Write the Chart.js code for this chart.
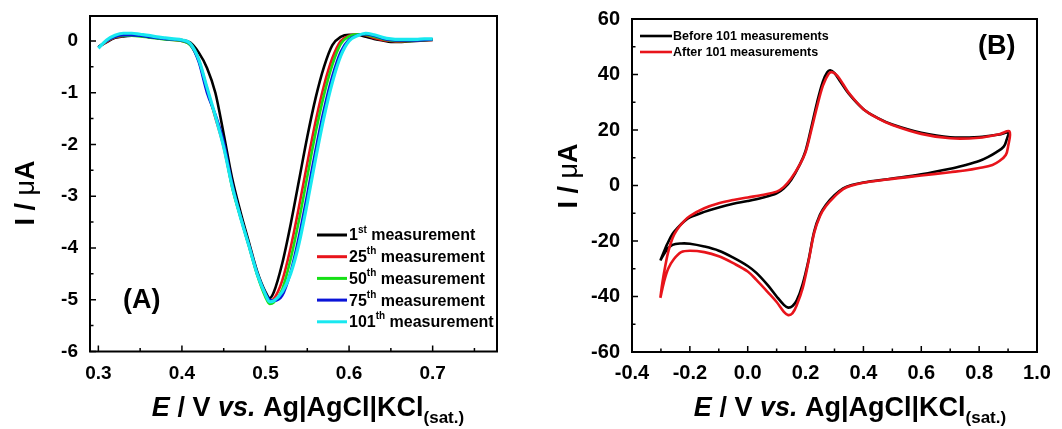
<!DOCTYPE html>
<html>
<head>
<meta charset="utf-8">
<script src="https://cdn.jsdelivr.net/npm/chart.js@4.4.1/dist/chart.umd.min.js"></script>
<style>
  html, body { margin: 0; padding: 0; background: #fff; }
  #wrap { position: relative; width: 1062px; height: 429px; }
  canvas { position: absolute; top: 0; }
  #ca { left: 0; }
  #cb { left: 531px; }
</style>
</head>
<body>
<div id="wrap">
  <canvas id="ca" width="531" height="429"></canvas>
  <canvas id="cb" width="531" height="429"></canvas>
</div>
<script>
// ---- panel A: DPV, 5 measurements on a shared potential grid ----
const eA = [0.30,0.31,0.32,0.33,0.34,0.35,0.36,0.37,0.38,0.39,0.40,0.41,0.42,0.43,0.44,0.45,0.46,0.47,0.48,0.49,0.50,0.505,
            0.51,0.52,0.53,0.54,0.55,0.56,0.57,0.58,0.59,0.60,0.61,0.62,0.63,0.64,0.65,0.66,0.67,0.68,0.69,0.70];
const m1   = [-0.12,-0.02,0.06,0.09,0.10,0.10,0.08,0.07,0.05,0.03,0.02,-0.03,-0.22,-0.52,-1.0,-1.8,-2.65,-3.3,-3.88,-4.45,-4.85,-4.97,
              -4.85,-4.3,-3.55,-2.7,-1.85,-1.1,-0.5,-0.08,0.08,0.12,0.12,0.08,0.04,0.01,-0.02,-0.02,-0.01,0.0,0.01,0.02];
const m25  = [-0.12,-0.01,0.07,0.10,0.11,0.10,0.08,0.06,0.04,0.02,0.0,-0.07,-0.36,-0.92,-1.48,-2.05,-2.8,-3.4,-3.95,-4.5,-4.92,-5.02,
              -4.98,-4.63,-4.0,-3.21,-2.36,-1.55,-0.86,-0.33,0.0,0.1,0.13,0.11,0.06,0.02,0.0,-0.01,0.0,0.01,0.02,0.02];
const m50  = [-0.12,0.0,0.08,0.10,0.10,0.09,0.07,0.05,0.03,0.02,0.0,-0.08,-0.38,-0.95,-1.45,-2.0,-2.82,-3.4,-3.95,-4.52,-4.95,-5.08,
              -5.05,-4.8,-4.22,-3.47,-2.62,-1.77,-1.04,-0.46,-0.06,0.09,0.13,0.12,0.08,0.04,0.01,0.0,0.0,0.01,0.02,0.03];
const m75  = [-0.12,0.0,0.08,0.11,0.11,0.10,0.08,0.06,0.04,0.03,0.01,-0.06,-0.4,-1.0,-1.42,-1.95,-2.75,-3.38,-3.93,-4.48,-4.88,-5.0,
              -5.02,-4.92,-4.47,-3.78,-2.96,-2.1,-1.32,-0.68,-0.21,0.03,0.11,0.13,0.10,0.05,0.02,0.01,0.01,0.01,0.02,0.03];
const m101 = [-0.14,0.02,0.11,0.15,0.15,0.13,0.11,0.08,0.06,0.04,0.02,-0.05,-0.35,-0.9,-1.45,-2.05,-2.8,-3.4,-3.95,-4.5,-4.9,-5.04,
              -5.02,-4.85,-4.5,-3.92,-3.13,-2.27,-1.47,-0.8,-0.29,0.0,0.1,0.15,0.12,0.07,0.04,0.03,0.03,0.03,0.04,0.04];
const labelsA = ['1st measurement','25th measurement','50th measurement','75th measurement','101th measurement'];
const colorsA = ['#000000','#e8141b','#16e016','#0a14d8','#18e8f0'];
const widthsA = [2.6, 2.6, 2.6, 2.6, 3.2];
const xTicksA = [0.3,0.4,0.5,0.6,0.7];
const xMinorA = [0.35,0.45,0.55,0.65,0.75];
const yTicksA = [-6,-5,-4,-3,-2,-1,0];
const yMinorA = [-5.5,-4.5,-3.5,-2.5,-1.5,-0.5];

// ---- panel B: CV before / after, forward then reverse scan ----
const eBefore = [-0.302,-0.29,-0.28,-0.26,-0.24,-0.22,-0.2,-0.15,-0.1,-0.05,0.0,0.05,0.1,0.125,0.15,0.18,0.2,0.22,0.24,0.26,0.275,0.285,0.3,0.32,0.35,0.4,0.45,0.5,0.6,0.7,0.8,0.87,0.9,
                 0.895,0.885,0.86,0.83,0.8,0.75,0.7,0.6,0.5,0.4,0.36,0.33,0.3,0.27,0.25,0.23,0.21,0.19,0.17,0.155,0.14,0.125,0.1,0.07,0.03,0.0,-0.05,-0.1,-0.15,-0.2,-0.23,-0.26,-0.28,-0.302];
const iBefore = [-27,-24,-21.5,-17.5,-15,-13,-11.5,-9.5,-7.9,-6.6,-5.6,-4.4,-2.8,-1.0,2.0,7.5,12.5,21,30,37.5,40.8,41.5,40.5,37.5,33,27.5,24.3,22,19,17.4,17.5,18.4,19,
                 16.5,14,12,10.2,8.8,7.3,6.0,4.0,2.5,1.1,0.2,-1.0,-3.5,-7,-10.5,-16.5,-27,-35.5,-41.3,-43.4,-44,-43,-40,-36,-31.5,-29,-26,-23.5,-22,-21,-20.9,-21.4,-23.2,-27];
const eAfter  = [-0.302,-0.295,-0.285,-0.275,-0.26,-0.245,-0.22,-0.2,-0.15,-0.1,-0.05,0.0,0.05,0.1,0.125,0.15,0.18,0.2,0.22,0.24,0.26,0.28,0.293,0.31,0.33,0.35,0.4,0.45,0.5,0.6,0.7,0.8,0.87,0.905,
                 0.9,0.892,0.87,0.846,0.8,0.75,0.7,0.6,0.5,0.4,0.36,0.33,0.3,0.27,0.25,0.23,0.21,0.19,0.17,0.155,0.14,0.125,0.1,0.07,0.03,0.0,-0.05,-0.1,-0.15,-0.2,-0.23,-0.255,-0.275,-0.29,-0.302];
const iAfter  = [-40.5,-35,-29,-24,-19,-16,-12.8,-11,-8.2,-6.4,-5.2,-4.3,-3.4,-2.2,-0.5,2.5,7.5,12,20,28.5,36,40.3,40.8,39.5,36.5,33.3,27.5,24.2,21.8,18.6,17.0,17.2,18.5,19.5,
                 14,11,8.8,7.4,6.3,5.4,4.8,3.6,2.4,1.0,0.0,-1.3,-4,-7.5,-11,-17,-27.5,-37,-43,-46,-46.7,-45.5,-42,-38.5,-34,-31,-28,-25.5,-24,-23.5,-24,-26.5,-30,-35,-40.5];
const labelsB = ['Before 101 measurements','After 101 measurements'];
const colorsB = ['#000000','#e8141b'];
const xTicksB = [-0.4,-0.2,0.0,0.2,0.4,0.6,0.8,1.0];
const xMinorB = [-0.3,-0.1,0.1,0.3,0.5,0.7,0.9];
const yTicksB = [-60,-40,-20,0,20,40,60];
const yMinorB = [-50,-30,-10,10,30,50];

const FONT = '"Liberation Sans", Arial, Helvetica, sans-serif';
const B27 = `bold 27px ${FONT}`, BI27 = `italic bold 27px ${FONT}`, B17 = `bold 17px ${FONT}`;
const xTitle = [{t:'E',f:BI27},{t:' / V ',f:B27},{t:'vs.',f:BI27},{t:' Ag|AgCl|KCl',f:B27},{t:'(sat.)',f:B17,dy:7}];
const yTitle = [{t:'I / ',f:B27},{t:'\u03bc',f:`27px ${FONT}`},{t:'A',f:B27}];

function rich(ctx, segs, x, y, align) {
  let w = 0;
  segs.forEach(s => { ctx.font = s.f; w += ctx.measureText(s.t).width; });
  let cx = align === 'center' ? x - w / 2 : x;
  segs.forEach(s => {
    ctx.font = s.f;
    ctx.fillText(s.t, cx, y + (s.dy || 0));
    cx += ctx.measureText(s.t).width;
  });
}

const decor = {
  id: 'decor',
  afterDatasetsDraw(chart, args, o) {
    const { ctx, chartArea: a, scales: { x, y } } = chart;
    ctx.save();
    ctx.strokeStyle = '#000';
    ctx.lineWidth = 2;
    ctx.strokeRect(a.left, a.top, a.right - a.left, a.bottom - a.top);

    // inward ticks on bottom and left only
    ctx.lineWidth = 1.5;
    ctx.beginPath();
    const tx = (vals, len) => vals.forEach(v => { const p = x.getPixelForValue(v); ctx.moveTo(p, a.bottom); ctx.lineTo(p, a.bottom - len); });
    const ty = (vals, len) => vals.forEach(v => { const p = y.getPixelForValue(v); ctx.moveTo(a.left, p); ctx.lineTo(a.left + len, p); });
    tx(o.xMajor, 6); tx(o.xMinor, 3.5);
    ty(o.yMajor, 6); ty(o.yMinor, 3.5);
    ctx.stroke();

    ctx.fillStyle = '#000';
    ctx.textBaseline = 'alphabetic';
    ctx.textAlign = 'left';
    rich(ctx, xTitle, o.xTitle[0], o.xTitle[1], 'center');
    ctx.save();
    ctx.translate(o.yTitle[0], o.yTitle[1]);
    ctx.rotate(-Math.PI / 2);
    rich(ctx, yTitle, 0, 0, 'center');
    ctx.restore();

    // panel tag
    ctx.font = `bold 27px ${FONT}`;
    ctx.textBaseline = 'middle';
    ctx.fillText(o.tag, o.tagPos[0], o.tagPos[1]);

    // legend with superscript ordinals
    const L = o.legend;
    L.labels.forEach((lab, i) => {
      const cy = L.y + i * L.dy;
      ctx.strokeStyle = L.colors[i];
      ctx.lineWidth = L.lw;
      ctx.beginPath();
      ctx.moveTo(L.x, cy); ctx.lineTo(L.x + L.len, cy);
      ctx.stroke();
      const m = lab.match(/^(\d+)(st|nd|rd|th)( .*)$/);
      const big = `bold ${L.size}px ${FONT}`, sup = `bold ${Math.round(L.size * 0.62)}px ${FONT}`;
      ctx.textBaseline = 'middle';
      if (m) rich(ctx, [{t:m[1],f:big},{t:m[2],f:sup,dy:-L.size*0.38},{t:m[3],f:big}], L.x + L.len + 2, cy + 1, 'left');
      else rich(ctx, [{t:lab,f:big}], L.x + L.len + 1, cy + 1, 'left');
    });
    ctx.restore();
  }
};

// fixed axis box: size forced, label overflow padding ignored
function fitter(key, val) {
  return s => {
    s[key] = val;
    s.paddingTop = 0; s.paddingBottom = 0; s.paddingLeft = 0; s.paddingRight = 0;
  };
}

function axis(min, max, ticks, fmt, size, fit, pad) {
  return {
    type: 'linear', min, max,
    afterBuildTicks: s => { s.ticks = ticks.map(v => ({ value: v })); },
    afterFit: fit,
    grid: { display: false, drawTicks: false },
    border: { display: false },
    ticks: { color: '#000', font: { family: FONT, size, weight: 'bold' }, padding: pad, autoSkip: false, maxRotation: 0, callback: fmt }
  };
}

function line(data, color, width, order, tension, mode) {
  return { data, borderColor: color, backgroundColor: color, borderWidth: width, pointRadius: 0,
           showLine: true, tension, cubicInterpolationMode: mode, order };
}

const seriesA = [m1, m25, m50, m75, m101];
new Chart(document.getElementById('ca'), {
  type: 'scatter',
  data: { datasets: seriesA.map((s, i) => line(eA.map((e, k) => ({ x: e, y: s[k] })), colorsA[i], widthsA[i], 4 - i, 0.4, 'monotone')) },
  options: {
    responsive: false, animation: false, events: [],
    layout: { padding: { left: 0, top: 16, right: 34, bottom: 0 } },
    scales: {
      x: axis(0.29, 0.777, xTicksA, v => v.toFixed(1), 19, fitter('height', 77.5), 11),
      y: axis(-6, 0.483, yTicksA, v => String(v), 19, fitter('width', 90), 12)
    },
    plugins: {
      legend: { display: false }, tooltip: { enabled: false },
      decor: { xMajor: xTicksA, xMinor: xMinorA, yMajor: yTicksA, yMinor: yMinorA,
               xTitle: [308, 416], yTitle: [34, 193], tag: '(A)', tagPos: [123, 301],
               legend: { labels: labelsA, colors: colorsA, x: 317, y: 235, dy: 21.7, len: 30, lw: 3, size: 16 } }
    }
  },
  plugins: [decor]
});

const seriesB = [[eBefore, iBefore], [eAfter, iAfter]];
new Chart(document.getElementById('cb'), {
  type: 'scatter',
  data: { datasets: seriesB.map(([es, is], i) => line(es.map((e, k) => ({ x: e, y: is[k] })), colorsB[i], 2.6, 1 - i, 0.35, 'default')) },
  options: {
    responsive: false, animation: false, events: [],
    layout: { padding: { left: 0, top: 19, right: 25, bottom: 0 } },
    scales: {
      x: axis(-0.4, 1.0, xTicksB, v => v.toFixed(1), 20, fitter('height', 77), 9),
      y: axis(-60, 60, yTicksB, v => String(v), 20, fitter('width', 101), 12)
    },
    plugins: {
      legend: { display: false }, tooltip: { enabled: false },
      decor: { xMajor: xTicksB, xMinor: xMinorB, yMajor: yTicksB, yMinor: yMinorB,
               xTitle: [319, 416], yTitle: [46, 176], tag: '(B)', tagPos: [447, 47],
               legend: { labels: labelsB, colors: colorsB, x: 109, y: 36, dy: 16, len: 32, lw: 2.6, size: 12.5 } }
    }
  },
  plugins: [decor]
});
</script>
</body>
</html>
